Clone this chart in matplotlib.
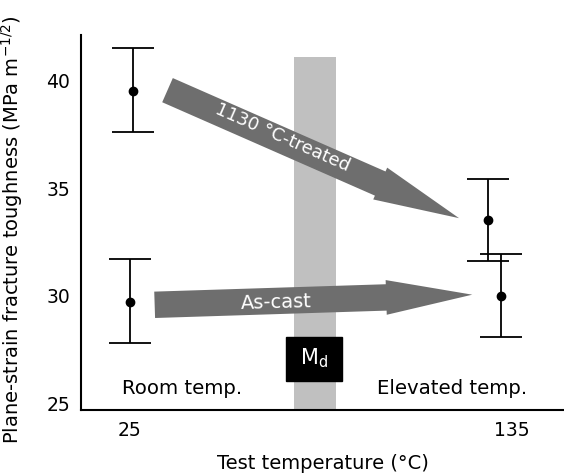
import matplotlib
matplotlib.use("Agg")
import matplotlib.pyplot as plt
from matplotlib.patches import FancyArrowPatch, Rectangle, ArrowStyle

plt.rcParams['font.family'] = ['DejaVu Sans']

# ===============================
# Data
# ===============================
temps = [25, 135]
tick_labels = ["25", "135"]
yticks = [25, 30, 35, 40]

# 1130 C-treated
treated_x = [25.9, 128.1]
treated_mean = [39.5, 33.5]
treated_hi = [41.5, 35.4]
treated_lo = [37.6, 31.6]

# as-cast
ascast_x = [25.0, 131.8]
ascast_mean = [29.7, 30.0]
ascast_hi = [31.7, 31.95]
ascast_lo = [27.8, 28.1]

# Md band (temperature range)
md_band = (72.4, 84.5)

# ===============================
# Figure
# ===============================
fig = plt.figure(figsize=(5.64, 4.76), dpi=100)
ax = fig.add_axes([0.1436, 0.1387, 0.8564, 0.7878])
ax.set_xlim(11, 150)
ax.set_ylim(24.7, 42.1)

# grey Md band
ax.axvspan(md_band[0], md_band[1], ymin=0, ymax=(41.1 - 24.7) / (42.1 - 24.7),
           color="#c0c0c0", lw=0, zorder=1)

# Md box
ax.add_patch(Rectangle((70.1, 26.06), 16.1, 2.04, color="black", zorder=3))
ax.text(78.1, 27.1, r"M$_\mathregular{d}$", color="white", fontsize=15,
        ha="center", va="center", zorder=4)

# error bars
def ebar(xs, mean, lo, hi):
    yerr = [[m - l for m, l in zip(mean, lo)], [h - m for m, h in zip(mean, hi)]]
    ax.errorbar(xs, mean, yerr=yerr, fmt="o", color="black", ms=6,
                elinewidth=1.3, capsize=15, capthick=1.3, zorder=5)

ebar(treated_x, treated_mean, treated_lo, treated_hi)
ebar(ascast_x, ascast_mean, ascast_lo, ascast_hi)

# arrows
arrow_col = "#6e6e6e"
style = ArrowStyle.Simple(head_length=62, head_width=25, tail_width=19)
a1 = FancyArrowPatch((35.9, 39.54), (119.8, 33.6), arrowstyle=style,
                     mutation_scale=1, shrinkA=0, shrinkB=0,
                     color=arrow_col, lw=0, zorder=2)
a2 = FancyArrowPatch((32.2, 29.58), (123.6, 30.05), arrowstyle=style,
                     mutation_scale=1, shrinkA=0, shrinkB=0,
                     color=arrow_col, lw=0, zorder=2)
ax.add_patch(a1)
ax.add_patch(a2)

ax.text(69, 37.36, "1130 °C-treated", color="white", fontsize=13,
        rotation=-23.7, rotation_mode="anchor", ha="center", va="center", zorder=3)
ax.text(67.2, 29.68, "As-cast", color="white", fontsize=14,
        rotation=1.5, rotation_mode="anchor", ha="center", va="center", zorder=3)

# region labels
ax.text(22.7, 25.46, "Room temp.", fontsize=14.2, ha="left", va="baseline")
ax.text(139.3, 25.46, "Elevated temp.", fontsize=14.2, ha="right", va="baseline")

# axes styling
ax.spines["top"].set_visible(False)
ax.spines["right"].set_visible(False)
ax.spines["left"].set_linewidth(1.5)
ax.spines["bottom"].set_linewidth(1.5)
ax.set_xticks(temps)
ax.set_xticklabels(tick_labels)
ax.set_yticks(yticks)
ax.tick_params(length=0, labelsize=13.5, pad=8)

ax.set_xlabel("Test temperature (°C)", fontsize=14, labelpad=10)
ax.set_ylabel(r"Plane-strain fracture toughness (MPa m$^{-1/2}$)", fontsize=14)
ax.yaxis.set_label_coords(-0.115, 0.48)

fig.savefig("out.png", dpi=100)
